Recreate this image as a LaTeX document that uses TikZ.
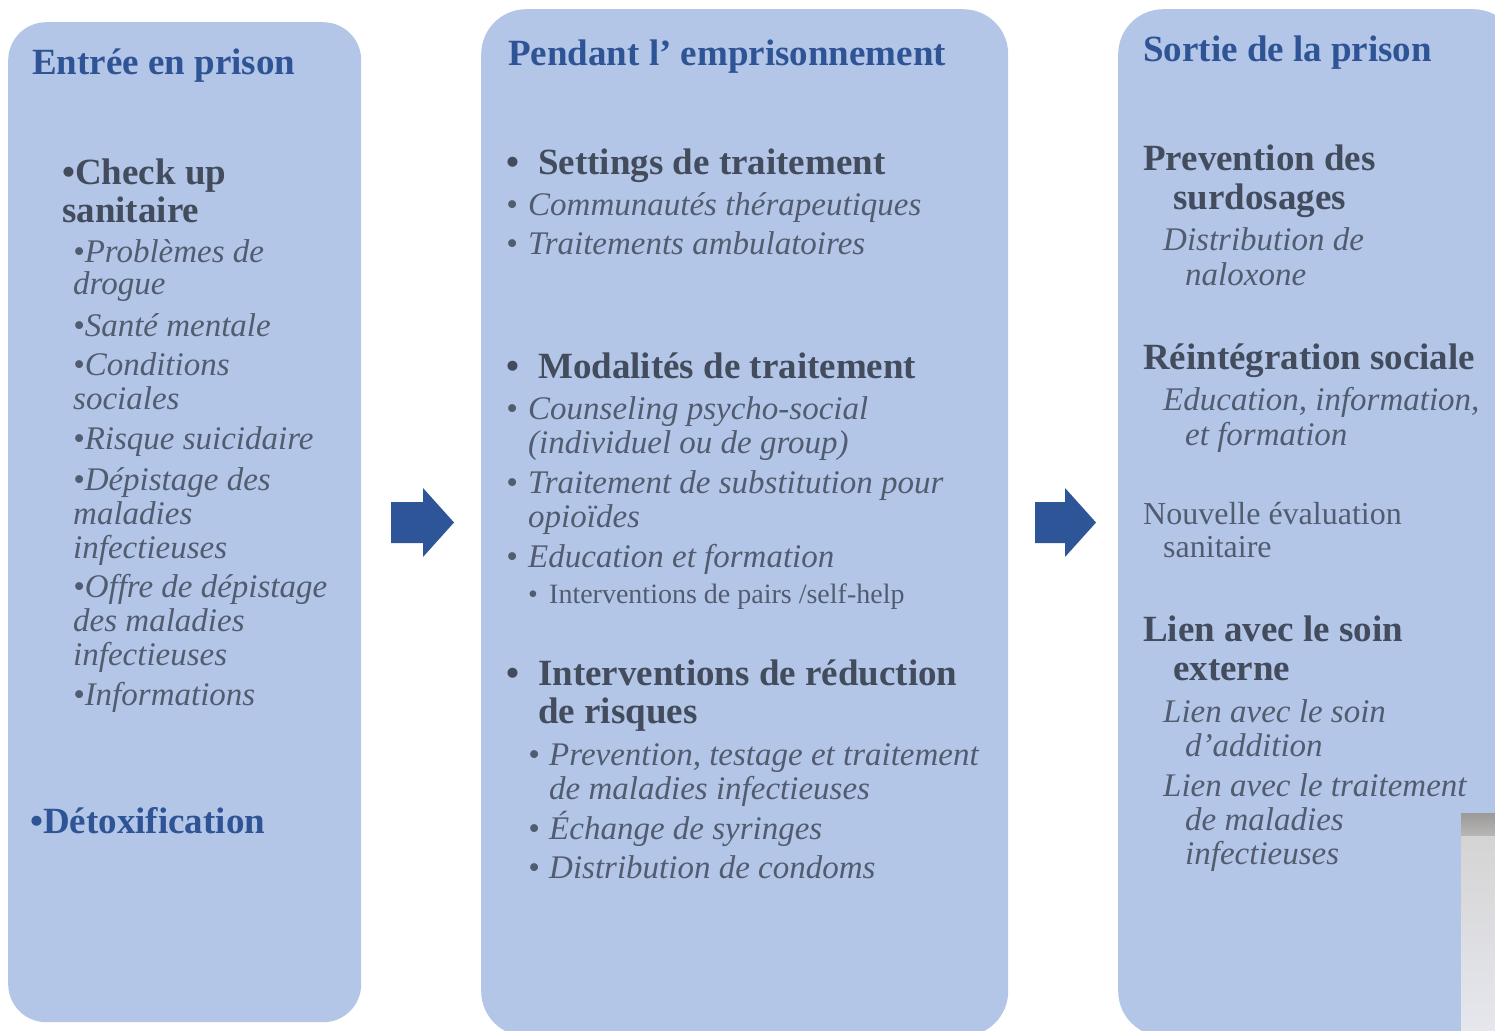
\documentclass[tikz,border=0pt]{standalone}
\usepackage{fontspec}
\setmainfont{Liberation Serif}
\definecolor{cBox}{HTML}{B4C6E7}
\definecolor{cTitle}{HTML}{2F5496}
\definecolor{cHead}{HTML}{434C5C}
\definecolor{cIt}{HTML}{525C70}
\definecolor{cArr}{HTML}{2E5597}
\definecolor{cGreyA}{HTML}{9C9A98}
\definecolor{cGreyB}{HTML}{B8B7B6}
\definecolor{cGreyC}{HTML}{D4D4D4}
\definecolor{cGreyD}{HTML}{E6E7EE}
\begin{document}
\begin{tikzpicture}[x=1pt,y=-1pt,
  box/.style={fill=cBox, rounded corners=38pt, draw=none, inner sep=0, anchor=north west},
  ttl/.style={anchor=base west, inner sep=0, text=cTitle, font=\fontsize{37}{40}\selectfont\bfseries},
  hd/.style={anchor=base west, inner sep=0, text=cHead, font=\fontsize{37}{40}\selectfont\bfseries},
  it/.style={anchor=base west, inner sep=0, text=cIt, font=\fontsize{33}{36}\selectfont\itshape},
  rg/.style={anchor=base west, inner sep=0, text=cIt, font=\fontsize{32}{36}\selectfont},
  sm/.style={anchor=base west, inner sep=0, text=cIt, font=\fontsize{28}{32}\selectfont},
  blockarrow/.style={fill=cArr}]
\useasboundingbox (0,0) rectangle (1495,1030);
\begin{scope}
\clip (0,0) rectangle (1495,1030);
% boxes
\node (b1) [box, minimum width=353pt, minimum height=1000pt] at (8,22) {};
\node (b2) [box, rounded corners=45pt, minimum width=527pt, minimum height=1027pt] at (481,9) {};
\node (b3) [box, rounded corners=45pt, minimum width=400pt, minimum height=1027pt] at (1118,9) {};
% block arrows
\fill[blockarrow] (391,502) -- (423,502) -- (423,488) -- (454,522.5) -- (423,557) -- (423,543) -- (391,543) -- cycle;
\fill[blockarrow] (1035,502) -- (1065,502) -- (1065,488) -- (1096,522.5) -- (1065,557) -- (1065,543) -- (1035,543) -- cycle;
% grey photo fragment
\fill[top color=cGreyA, bottom color=cGreyB] (1461,813) rectangle (1495,836);
\fill[top color=cGreyC, bottom color=cGreyD] (1461,836) rectangle (1495,1030);
\end{scope}
% Box 1
\node (t1a) [ttl] at (32,75) {Entrée en prison};
\node (t1b) [hd] at (62,184) {•Check up};
\node (t1c) [hd] at (62,222) {sanitaire};
\node (t1d) [it] at (73,262) {•Problèmes de};
\node (t1e) [it] at (73,294) {drogue};
\node (t1f) [it] at (73,336) {•Santé mentale};
\node (t1g) [it] at (73,375) {•Conditions};
\node (t1h) [it] at (73,409) {sociales};
\node (t1i) [it] at (73,449) {•Risque suicidaire};
\node (t1j) [it] at (73,490) {•Dépistage des};
\node (t1k) [it] at (73,524) {maladies};
\node (t1l) [it] at (73,558) {infectieuses};
\node (t1m) [it] at (73,597) {•Offre de dépistage};
\node (t1n) [it] at (73,631) {des maladies};
\node (t1o) [it] at (73,665) {infectieuses};
\node (t1p) [it] at (73,705) {•Informations};
\node (t1q) [ttl] at (30,833) {•Détoxification};
% Box 2
\node (t2a) [ttl] at (508,66) {Pendant l’ emprisonnement};
\node (t2b) [hd] at (506,174) {\makebox[32pt][l]{•}Settings de traitement};
\node (t2c) [it] at (506,215) {\makebox[22pt][l]{•}Communautés thérapeutiques};
\node (t2d) [it] at (506,254) {\makebox[22pt][l]{•}Traitements ambulatoires};
\node (t2e) [hd] at (506,378) {\makebox[32pt][l]{•}Modalités de traitement};
\node (t2f) [it] at (506,419) {\makebox[22pt][l]{•}Counseling psycho-social};
\node (t2g) [it] at (528,453) {(individuel ou de group)};
\node (t2h) [it] at (506,493) {\makebox[22pt][l]{•}Traitement de substitution pour};
\node (t2i) [it] at (528,527) {opioïdes};
\node (t2j) [it] at (506,567) {\makebox[22pt][l]{•}Education et formation};
\node (t2k) [sm] at (528,603) {\makebox[21pt][l]{•}Interventions de pairs /self-help};
\node (t2l) [hd] at (506,685) {\makebox[32pt][l]{•}Interventions de réduction};
\node (t2m) [hd] at (538,723) {de risques};
\node (t2n) [it] at (528,765) {\makebox[21pt][l]{•}Prevention, testage et traitement};
\node (t2o) [it] at (549,799) {de maladies infectieuses};
\node (t2p) [it] at (528,839) {\makebox[21pt][l]{•}Échange de syringes};
\node (t2q) [it] at (528,878) {\makebox[21pt][l]{•}Distribution de condoms};
% Box 3
\node (t3a) [ttl] at (1143,62) {Sortie de la prison};
\node (t3b) [hd] at (1143,170) {Prevention des};
\node (t3c) [hd] at (1173,209) {surdosages};
\node (t3d) [it] at (1163,250) {Distribution de};
\node (t3e) [it] at (1185,285) {naloxone};
\node (t3f) [hd] at (1143,369) {Réintégration sociale};
\node (t3g) [it] at (1163,410) {Education, information,};
\node (t3h) [it] at (1185,445) {et formation};
\node (t3i) [rg] at (1143,524) {Nouvelle évaluation};
\node (t3j) [rg] at (1163,557) {sanitaire};
\node (t3k) [hd] at (1143,641) {Lien avec le soin};
\node (t3l) [hd] at (1173,680) {externe};
\node (t3m) [it] at (1163,722) {Lien avec le soin};
\node (t3n) [it] at (1185,756) {d’addition};
\node (t3o) [it] at (1163,796) {Lien avec le traitement};
\node (t3p) [it] at (1185,830) {de maladies};
\node (t3q) [it] at (1185,864) {infectieuses};
\end{tikzpicture}
\end{document}
